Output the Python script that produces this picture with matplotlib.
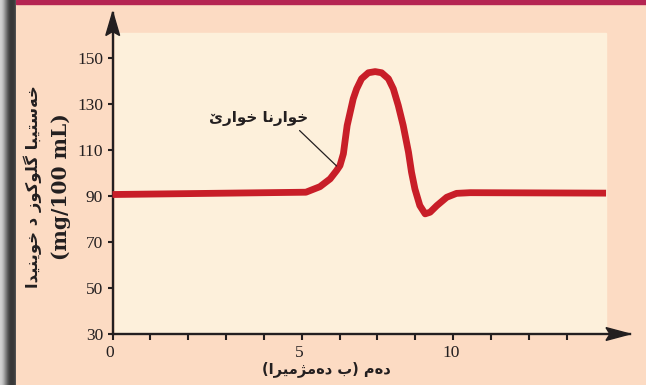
import numpy as np
import matplotlib
matplotlib.use("Agg")
import matplotlib.pyplot as plt
from matplotlib.patches import Rectangle, Polygon
import matplotlib.transforms as mtransforms

# ---------------- data ----------------
# x positions are in units of the axis tick spacing (ticks drawn at 0..12)
glucose_time = [0.0, 5.11, 5.48, 5.75, 5.92, 6.01, 6.10, 6.14, 6.20, 6.28, 6.36, 6.45,
                6.58, 6.76, 6.94, 7.11, 7.29, 7.42, 7.55, 7.68, 7.82, 7.90, 7.99,
                8.12, 8.26, 8.39, 8.57, 8.83, 9.09, 9.45, 13.04]
glucose_level = [90.6, 91.6, 94.0, 97.4, 101.0, 103.2, 108.3, 113.3, 120.6, 126.4, 132.2, 136.5,
                 140.9, 143.5, 144.0, 143.5, 140.9, 136.5, 129.3, 120.6, 109.0, 100.3, 93.0,
                 85.8, 82.2, 82.9, 85.8, 89.4, 91.1, 91.4, 91.2]
y_ticks = [30, 50, 70, 90, 110, 130, 150]
x_tick_positions = list(range(13))
x_tick_labels = ['0', '', '', '', '', '5', '', '', '', '10', '', '', '']
meal_point = (5.92, 103.0)

y_label_text = "خەستیبا گلوکوز د خوینێدا"
y_unit_text = "(mg/100 mL)"
x_label_text = "دەم (ب دەمژمێرا)"
meal_text = "خوارنا خوارێ"

# ---------------- simple Arabic-script shaping ----------------
DUAL = {
    '\u062E': ('\uFEA5', '\uFEA6', '\uFEA7', '\uFEA8'),  # kha
    '\u0633': ('\uFEB1', '\uFEB2', '\uFEB3', '\uFEB4'),  # seen
    '\u062A': ('\uFE95', '\uFE96', '\uFE97', '\uFE98'),  # teh
    '\u06CC': ('\uFBFC', '\uFBFD', '\uFBFE', '\uFBFF'),  # farsi yeh
    '\u06CE': ('\u06CE', '\uFBFD', '\uFBFE', '\uFBFF'),  # yeh with small v
    '\u0628': ('\uFE8F', '\uFE90', '\uFE91', '\uFE92'),  # beh
    '\u06AF': ('\uFB92', '\uFB93', '\uFB94', '\uFB95'),  # gaf
    '\u0644': ('\uFEDD', '\uFEDE', '\uFEDF', '\uFEE0'),  # lam
    '\u06A9': ('\uFB8E', '\uFB8F', '\uFB90', '\uFB91'),  # keheh
    '\u0646': ('\uFEE5', '\uFEE6', '\uFEE7', '\uFEE8'),  # noon
    '\u0645': ('\uFEE1', '\uFEE2', '\uFEE3', '\uFEE4'),  # meem
}
RIGHT = {
    '\u0627': ('\uFE8D', '\uFE8E'),  # alef
    '\u06D5': ('\u06D5', '\uFEEA'),  # ae
    '\u0648': ('\uFEED', '\uFEEE'),  # waw
    '\u0632': ('\uFEAF', '\uFEB0'),  # zain
    '\u062F': ('\uFEA9', '\uFEAA'),  # dal
    '\u0698': ('\uFB8A', '\uFB8B'),  # jeh
    '\u0631': ('\uFEAD', '\uFEAE'),  # reh
}
MIRROR = {'(': ')', ')': '('}


def shape(text):
    clusters = []
    n = len(text)
    for i, c in enumerate(text):
        prev = text[i - 1] if i > 0 else None
        nxt = text[i + 1] if i + 1 < n else None
        cp = prev in DUAL
        if c in DUAL:
            cn = nxt is not None and (nxt in DUAL or nxt in RIGHT)
            f = DUAL[c]
            g = f[3] if (cp and cn) else f[1] if cp else f[2] if cn else f[0]
            clusters.append(g)
        elif c in RIGHT:
            f = RIGHT[c]
            clusters.append(f[1] if cp else f[0])
        else:
            clusters.append(MIRROR.get(c, c))
    return ''.join(reversed(clusters))


# ---------------- figure ----------------
W, H = 646, 385
PEACH = '#FCDBC3'
CREAM = '#FDF0DB'
RED = '#C81E28'
INK = '#231F20'

fig = plt.figure(figsize=(W / 100, H / 100), dpi=100, facecolor=PEACH)


def fx(px):
    return px / W


def fy(py):
    return 1 - py / H


# left grey band
gax = fig.add_axes([0, 0, fx(16), 1])
grad = np.array([[0.82, 0.80, 0.76, 0.70, 0.62, 0.54, 0.46, 0.38, 0.31, 0.26,
                  0.23, 0.22, 0.22, 0.23, 0.25, 0.32]])
gax.imshow(np.dstack([grad, grad, grad]), aspect='auto', extent=[0, 1, 0, 1])
gax.axis('off')

# top magenta strip
fig.add_artist(Rectangle((fx(15.6), fy(4)), 1 - fx(15.6), fy(0) - fy(4),
                         transform=fig.transFigure, color='#B52452', zorder=0))
# cream plotting panel
fig.add_artist(Rectangle((fx(115), fy(334)), fx(606) - fx(115), fy(32.7) - fy(334),
                         transform=fig.transFigure, color=CREAM, zorder=0))

x0, x1 = 112.5, 629.7
ybot, ytop = 334.0, 12.7
px_per_x = 37.85
px_per_y = 2.3017
ax = fig.add_axes([fx(x0), fy(ybot), fx(x1) - fx(x0), fy(ytop) - fy(ybot)])
ax.patch.set_alpha(0)
ax.set_xlim(0, (x1 - x0) / px_per_x)
ax.set_ylim(30, 30 + (ybot - ytop) / px_per_y)

ax.plot(glucose_time, glucose_level, color=RED, lw=4.9, solid_joinstyle='round',
        solid_capstyle='butt', zorder=3, clip_on=False)

for s in ['top', 'right']:
    ax.spines[s].set_visible(False)
for s in ['left', 'bottom']:
    ax.spines[s].set_color(INK)
    ax.spines[s].set_linewidth(1.7)

serif = 'Liberation Serif'
ax.set_yticks(y_ticks)
ax.set_yticklabels([str(v) for v in y_ticks], fontfamily=serif, fontsize=12.5, color=INK)
ax.set_xticks(x_tick_positions)
ax.set_xticklabels(x_tick_labels, fontfamily=serif, fontsize=12.5, color=INK)
ax.tick_params(axis='y', direction='out', length=3.5, width=1.5, pad=3.2, colors=INK)
ax.tick_params(axis='x', direction='out', length=4.5, width=1.5, pad=3.5, colors=INK)
shift = mtransforms.ScaledTranslation(-2.5 / 100, 0, fig.dpi_scale_trans)
for lbl in ax.get_xticklabels():
    lbl.set_transform(lbl.get_transform() + shift)

# arrow heads
def pts(lst):
    return [(fx(a), fy(b)) for a, b in lst]

fig.add_artist(Polygon(pts([(112.7, 12.0), (119.6, 35.5), (112.7, 31.5), (105.8, 35.5)]),
                       closed=True, transform=fig.transFigure, color=INK, zorder=5))
fig.add_artist(Polygon(pts([(630.0, 334.0), (606.0, 327.6), (610.0, 334.0), (606.0, 340.4)]),
                       closed=True, transform=fig.transFigure, color=INK, zorder=5))

# annotation
arab = 'DejaVu Sans'
ax.annotate(shape(meal_text), xy=meal_point, xytext=(3.87, 123.7),
            ha='center', va='center', fontfamily=arab, fontweight='bold', fontsize=11,
            color=INK,
            arrowprops=dict(arrowstyle='-', color=INK, lw=0.9, shrinkA=2, shrinkB=0,
                            relpos=(0.86, 0.0)))

# axis labels
fig.text(fx(326), fy(369), shape(x_label_text), ha='center', va='center',
         fontfamily=arab, fontweight='bold', fontsize=10.5, color=INK)
fig.text(fx(33), fy(187), shape(y_label_text), ha='center', va='center', rotation=90,
         fontfamily=arab, fontweight='bold', fontsize=11.8, color=INK)
fig.text(fx(61), fy(187), y_unit_text, ha='center', va='center', rotation=90,
         fontfamily='DejaVu Serif', fontweight='bold', fontsize=14.5, color=INK)

fig.savefig('out.png', dpi=100, facecolor=PEACH)
